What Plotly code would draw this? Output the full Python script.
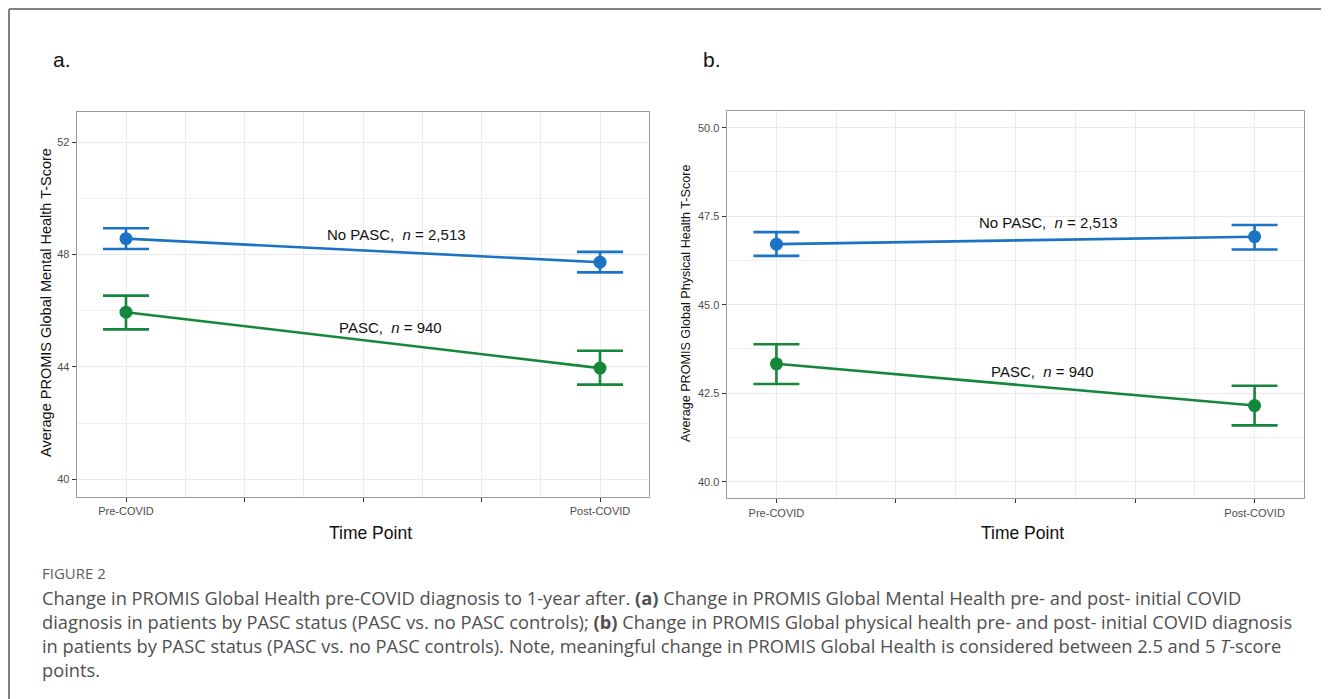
import plotly.graph_objects as go

# ---------------- data ----------------
time_labels = ["Pre-COVID", "Post-COVID"]
time_pos = [0, 1]

mental_nopasc_mean = [48.57, 47.73]
mental_nopasc_low = [48.20, 47.37]
mental_nopasc_high = [48.94, 48.10]
mental_pasc_mean = [45.95, 43.96]
mental_pasc_low = [45.34, 43.37]
mental_pasc_high = [46.54, 44.58]

physical_nopasc_mean = [46.71, 46.92]
physical_nopasc_low = [46.38, 46.56]
physical_nopasc_high = [47.05, 47.25]
physical_pasc_mean = [43.33, 42.15]
physical_pasc_low = [42.76, 41.59]
physical_pasc_high = [43.88, 42.71]

mental_yticks = [40, 44, 48, 52]
physical_yticks = [40.0, 42.5, 45.0, 47.5, 50.0]

group_labels = ["No PASC,  <i>n</i> = 2,513", "PASC,  <i>n</i> = 940"]

caption_head = "FIGURE 2"
caption_lines = [
    "Change in PROMIS Global Health pre-COVID diagnosis to 1-year after. <b>(a)</b> Change in PROMIS Global Mental Health pre- and post- initial COVID",
    "diagnosis in patients by PASC status (PASC vs. no PASC controls); <b>(b)</b> Change in PROMIS Global physical health pre- and post- initial COVID diagnosis",
    "in patients by PASC status (PASC vs. no PASC controls). Note, meaningful change in PROMIS Global Health is considered between 2.5 and 5 <i>T</i>-score",
    "points.",
]

BLUE = "#1a73c4"
GREEN = "#14873a"

# page body has an 8px margin: the figure is drawn from (8, 8)
OX, OY = 8, 8
W, H = 1329 - OX, 699 - OY

TICKFONT = dict(family="Liberation Sans Narrow, Arial Narrow, Liberation Sans, Arial", size=11, color="#4d4d4d")
LABFONT = dict(family="Liberation Sans Narrow, Arial Narrow, Liberation Sans, Arial", size=15, color="#111111")


def fx(p):
    return (p - OX) / W


def fy(p):
    return 1 - (p - OY) / H


fig = go.Figure()


def add_series(mean, low, high, color, xa, ya):
    fig.add_trace(go.Scatter(
        x=time_pos, y=mean, mode="lines+markers",
        line=dict(color=color, width=2.6),
        marker=dict(color=color, size=13),
        error_y=dict(type="data", symmetric=False,
                     array=[h - m for h, m in zip(high, mean)],
                     arrayminus=[m - l for m, l in zip(mean, low)],
                     color=color, thickness=2.6, width=23),
        xaxis=xa, yaxis=ya, showlegend=False, hoverinfo="skip"))


add_series(mental_nopasc_mean, mental_nopasc_low, mental_nopasc_high, BLUE, "x", "y")
add_series(mental_pasc_mean, mental_pasc_low, mental_pasc_high, GREEN, "x", "y")
add_series(physical_nopasc_mean, physical_nopasc_low, physical_nopasc_high, BLUE, "x2", "y2")
add_series(physical_pasc_mean, physical_pasc_low, physical_pasc_high, GREEN, "x2", "y2")


def xaxis_cfg(domain):
    return dict(domain=domain, range=[-0.104, 1.104], tickmode="array",
                tickvals=[0, 0.25, 0.5, 0.75, 1],
                ticktext=[time_labels[0], "", "", "", time_labels[1]],
                ticks="outside", ticklen=4, tickcolor="#333333", tickwidth=1,
                tickfont=TICKFONT, showgrid=True, gridcolor="#ebebeb", gridwidth=1,
                minor=dict(tickmode="linear", tick0=0, dtick=0.125, showgrid=True,
                           gridcolor="#ebebeb", gridwidth=1, ticklen=0),
                showline=True, linecolor="#9a9a9a", linewidth=1.2, mirror=True,
                zeroline=False, fixedrange=True)


def yaxis_cfg(domain, rng, ticks, fmt, minor_dtick, anchor):
    return dict(domain=domain, range=rng, tickmode="array", tickvals=ticks,
                tickformat=fmt, ticks="outside", ticklen=4, tickcolor="#333333",
                tickwidth=1, tickfont=TICKFONT, showgrid=True, gridcolor="#ebebeb",
                gridwidth=1.2,
                minor=dict(tickmode="linear", tick0=ticks[0], dtick=minor_dtick,
                           showgrid=True, gridcolor="#f0f0f0", gridwidth=1, ticklen=0),
                showline=True, linecolor="#9a9a9a", linewidth=1.2, mirror=True,
                zeroline=False, anchor=anchor, fixedrange=True)


fig.update_layout(
    width=W, height=H, margin=dict(l=0, r=0, t=0, b=0),
    paper_bgcolor="white", plot_bgcolor="white",
    xaxis=xaxis_cfg([fx(76.7), fx(649.3)]) | dict(anchor="y"),
    yaxis=yaxis_cfg([fy(496.7), fy(111.7)], [39.38, 53.09], mental_yticks, "d", 2, "x"),
    xaxis2=xaxis_cfg([fx(726.7), fx(1304.3)]) | dict(anchor="y2"),
    yaxis2=yaxis_cfg([fy(498.3), fy(110.7)], [39.53, 50.48], physical_yticks, ".1f", 1.25, "x2"),
)

ann = []
# in-plot labels
ann.append(dict(x=0.57, y=48.72, xref="x", yref="y", text=group_labels[0], showarrow=False, font=LABFONT))
ann.append(dict(x=0.557, y=45.40, xref="x", yref="y", text=group_labels[1], showarrow=False, font=LABFONT))
ann.append(dict(x=0.568, y=47.31, xref="x2", yref="y2", text=group_labels[0], showarrow=False, font=LABFONT))
ann.append(dict(x=0.556, y=43.10, xref="x2", yref="y2", text=group_labels[1], showarrow=False, font=LABFONT))


def px(xp, yp, text, size, color="#111111", family="Liberation Sans, Arial", angle=0, xanchor="center"):
    return dict(x=fx(xp), y=fy(yp), xref="paper", yref="paper", text=text, showarrow=False,
                textangle=angle, xanchor=xanchor, yanchor="middle",
                font=dict(family=family, size=size, color=color))


# panel letters
ann.append(px(62, 59, "a.", 21))
ann.append(px(712, 59, "b.", 21))
# axis titles
ann.append(px(46, 303, "Average PROMIS Global Mental Health T-Score", 14.5, angle=-90))
ann.append(px(686, 304, "Average PROMIS Global Physical Health T-Score", 12.6, angle=-90))
ann.append(px(370, 533, "Time Point", 17.5))
ann.append(px(1022, 533, "Time Point", 17.5))
# caption
ann.append(px(40, 573, caption_head, 15, color="#5c5c5c", family="Open Sans, Noto Sans", xanchor="left"))
for i, line in enumerate(caption_lines):
    ann.append(px(40, 597 + i * 24.3, line, 18.3, color="#505050", family="Open Sans, Noto Sans", xanchor="left"))

fig.update_layout(annotations=ann)

# outer frame (top and left lines)
fig.add_shape(type="line", xref="paper", yref="paper", x0=fx(9), x1=1, y0=fy(9), y1=fy(9),
              line=dict(color="#808080", width=2))
fig.add_shape(type="line", xref="paper", yref="paper", x0=fx(9), x1=fx(9), y0=0, y1=fy(9),
              line=dict(color="#808080", width=2))

fig.write_html("out.html", config={"displayModeBar": False})
